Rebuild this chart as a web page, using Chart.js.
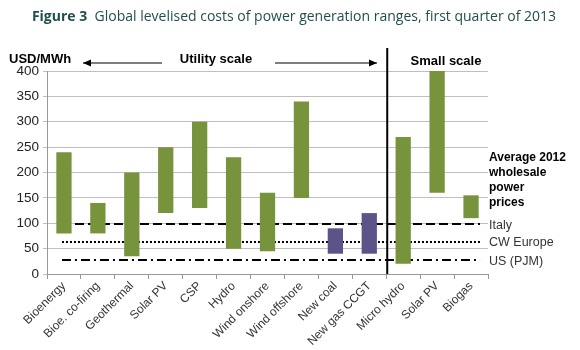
<!DOCTYPE html>
<html>
<head>
<meta charset="utf-8">
<script src="https://cdn.jsdelivr.net/npm/chart.js@4"></script>
<style>
  body { margin: 0; background: #fff; }
  #wrap { width: 580px; height: 350px; }
</style>
</head>
<body>
<div id="wrap"><canvas id="costChart" width="580" height="350"></canvas></div>
<script>
const categories = ["Bioenergy", "Bioe. co-firing", "Geothermal", "Solar PV", "CSP", "Hydro",
  "Wind onshore", "Wind offshore", "New coal", "New gas CCGT", "Micro hydro", "Solar PV", "Biogas"];
const lowValues = [80, 80, 35, 120, 130, 50, 45, 150, 40, 40, 20, 160, 110];
const highValues = [240, 140, 200, 250, 300, 230, 160, 340, 90, 120, 270, 400, 155];
const isFossil = [false, false, false, false, false, false, false, false, true, true, false, false, false];
const yTicks = [0, 50, 100, 150, 200, 250, 300, 350, 400];

const priceNames = ["Italy", "CW Europe", "US (PJM)"];
const priceValues = [98, 63, 27];
const priceDashes = [[9, 4], [2, 2], [9, 4, 2, 4]];

const green = "#77933c";
const purple = "#5c5389";

const ranges = lowValues.map((lo, i) => [lo, highValues[i]]);

function arrow(ctx, x1, x2, y) {
  ctx.beginPath();
  ctx.moveTo(x1, y);
  ctx.lineTo(x2, y);
  ctx.stroke();
  const dir = x2 > x1 ? 1 : -1;
  ctx.beginPath();
  ctx.moveTo(x2, y);
  ctx.lineTo(x2 - dir * 8, y - 3.5);
  ctx.lineTo(x2 - dir * 8, y + 3.5);
  ctx.closePath();
  ctx.fill();
}

// wholesale price lines go under the bars
const priceLines = {
  id: "priceLines",
  beforeDatasetsDraw(chart) {
    const { ctx, scales: { x, y } } = chart;
    const x0 = x.getPixelForValue(0) - 2;
    const x1 = x.getPixelForValue(categories.length - 1) + 9;
    ctx.save();
    ctx.strokeStyle = "#000";
    ctx.lineWidth = 2;
    priceValues.forEach((v, i) => {
      ctx.setLineDash(priceDashes[i]);
      const py = Math.round(y.getPixelForValue(v));
      ctx.beginPath();
      ctx.moveTo(x0, py);
      ctx.lineTo(x1, py);
      ctx.stroke();
    });
    ctx.restore();
  }
};

const extras = {
  id: "extras",
  afterDraw(chart) {
    const { ctx, chartArea, scales: { x, y } } = chart;
    ctx.save();

    // title
    ctx.textBaseline = "middle";
    ctx.fillStyle = "#1f4f4b";
    ctx.font = "bold 14px 'Open Sans'";
    const part1 = "Figure 3  ";
    const part2 = "Global levelised costs of power generation ranges, first quarter of 2013";
    const w1 = ctx.measureText(part1).width;
    ctx.font = "14px 'Open Sans'";
    const w2 = ctx.measureText(part2).width;
    let tx = 294 - (w1 + w2) / 2;
    ctx.font = "bold 14px 'Open Sans'";
    ctx.textAlign = "left";
    ctx.fillText(part1, tx, 17);
    ctx.font = "14px 'Open Sans'";
    ctx.fillText(part2, tx + w1, 17);

    // headers
    ctx.fillStyle = "#000";
    ctx.font = "bold 13px 'Liberation Sans'";
    ctx.fillText("USD/MWh", 9, 59);
    ctx.textAlign = "center";
    ctx.fillText("Utility scale", 216, 59);
    ctx.fillText("Small scale", 446, 61);

    ctx.strokeStyle = "#000";
    ctx.lineWidth = 1.2;
    arrow(ctx, 162, 83, 63);
    arrow(ctx, 275, 377, 63);

    // utility / small scale separator
    const sep = (x.getPixelForValue(9) + x.getPixelForValue(10)) / 2 + 1;
    ctx.lineWidth = 2;
    ctx.beginPath();
    ctx.moveTo(sep, 48);
    ctx.lineTo(sep, chartArea.bottom);
    ctx.stroke();

    // right side labels
    ctx.textAlign = "left";
    const lx = chartArea.right + 1;
    ctx.font = "bold 12px 'Liberation Sans'";
    ["Average 2012", "wholesale", "power", "prices"].forEach((t, i) => {
      ctx.fillText(t, lx, 158 + i * 15);
    });
    ctx.font = "12.5px 'Liberation Sans'";
    ctx.fillStyle = "#333";
    priceNames.forEach((n, i) => {
      ctx.fillText(n, lx, y.getPixelForValue(priceValues[i]) + 1);
    });
    ctx.restore();
  }
};

const ctx = document.getElementById("costChart");
new Chart(ctx, {
  type: "bar",
  data: {
    labels: categories,
    datasets: [{
      label: "Levelised cost range",
      data: ranges,
      backgroundColor: isFossil.map(f => (f ? purple : green)),
      borderWidth: 0,
      barPercentage: 0.45,
      categoryPercentage: 1
    }]
  },
  options: {
    responsive: false,
    animation: false,
    layout: { padding: { left: 0, top: 71, right: 92, bottom: 0 } },
    plugins: {
      legend: { display: false },
      tooltip: { enabled: false }
    },
    scales: {
      x: {
        offset: true,
        afterFit: s => { s.height = 76; },
        grid: { offset: true, drawOnChartArea: false, drawTicks: true, tickLength: 5, color: "#999" },
        border: { color: "#999" },
        ticks: {
          minRotation: 45,
          maxRotation: 45,
          autoSkip: false,
          padding: 0,
          color: "#333",
          font: { family: "Liberation Sans", size: 12 }
        }
      },
      y: {
        min: 0,
        max: 400,
        afterFit: s => { s.width = 47; },
        afterBuildTicks: s => { s.ticks = yTicks.map(v => ({ value: v })); },
        grid: { color: "#bfbfbf", tickLength: 4 },
        border: { color: "#999" },
        ticks: {
          padding: 4,
          color: "#222",
          font: { family: "Liberation Sans", size: 13.5 }
        }
      }
    }
  },
  plugins: [priceLines, extras]
});
</script>
</body>
</html>
